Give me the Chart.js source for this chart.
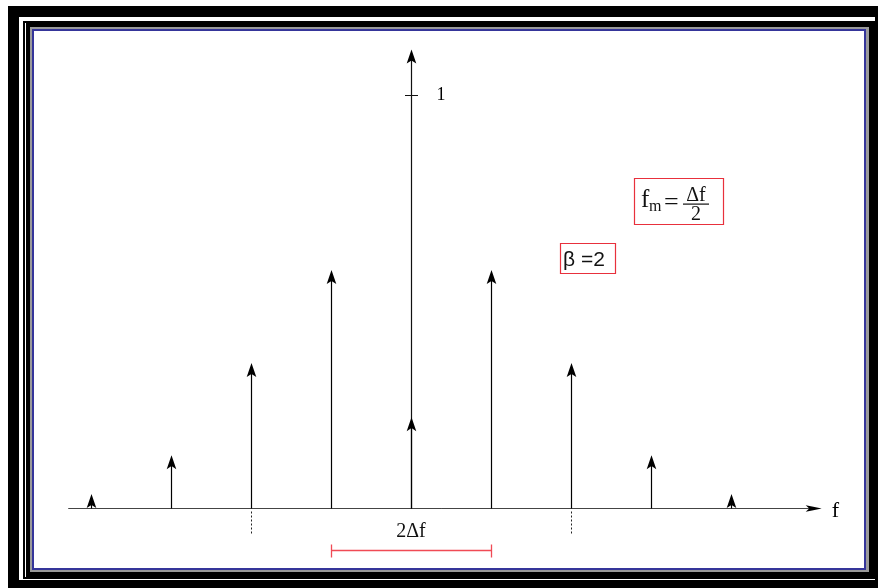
<!DOCTYPE html>
<html>
<head>
<meta charset="utf-8">
<script src="https://cdn.jsdelivr.net/npm/chart.js@4"></script>
<style>
  html, body { margin:0; padding:0; background:#fff; }
  #wrap { position:relative; width:878px; height:588px; overflow:hidden; background:#fff; }
  .fr { position:absolute; }
  canvas { position:absolute; left:0; top:0; }
</style>
</head>
<body>
<div id="wrap">
  <div class="fr" style="left:8px;top:6px;width:900px;height:600px;background:#000;"></div>
  <div class="fr" style="left:19px;top:17px;width:856px;height:563px;background:#fff;"></div>
  <div class="fr" style="left:23px;top:21px;width:852px;height:558px;background:#000;"></div>
  <div class="fr" style="left:25px;top:23px;width:1px;height:554px;background:#fff;"></div>
  <div class="fr" style="left:30px;top:27px;width:839px;height:545px;background:#9a9a9a;"></div>
  <div class="fr" style="left:32px;top:29px;width:834px;height:541px;background:#35359a;"></div>
  <div class="fr" style="left:34px;top:31px;width:830px;height:537px;background:#fff;"></div>
  <canvas id="c" width="878" height="588"></canvas>
</div>
<script>
// ---- data ----
const harmonics  = [-4, -3, -2, -1, 0, 1, 2, 3, 4];          // sideband index (multiples of f_m)
const amplitudes = [0.034, 0.128, 0.351, 0.576, 0.22, 0.576, 0.351, 0.128, 0.034];
const yTickValues = [1];
const yTickLabels = ['1'];
const xAxisLabel = 'f';
const spanLabel = '2\u0394f';
const betaLabel = '\u03B2 =2';

function arrowHead(ctx, x, y, dir, len, half) {
  // dir: 'up' or 'right'; tip at (x,y)
  ctx.save();
  ctx.translate(x, y);
  if (dir === 'right') ctx.rotate(Math.PI / 2);
  ctx.beginPath();
  ctx.moveTo(0, 0);
  ctx.quadraticCurveTo(half * 0.55, len * 0.55, half, len);
  ctx.lineTo(0, len * 0.78);
  ctx.lineTo(-half, len);
  ctx.quadraticCurveTo(-half * 0.55, len * 0.55, 0, 0);
  ctx.closePath();
  ctx.fillStyle = '#000';
  ctx.fill();
  ctx.restore();
}

const spectrumPlugin = {
  id: 'spectrum',
  afterDatasetsDraw(chart) {
    const ctx = chart.ctx;
    const xs = chart.scales.x, ys = chart.scales.y;
    const y0 = Math.round(ys.getPixelForValue(0)) + 0.5;
    ctx.save();

    // horizontal axis
    const xa0 = xs.getPixelForValue(-4.29), xa1 = xs.getPixelForValue(5.14);
    ctx.strokeStyle = '#444';
    ctx.lineWidth = 1;
    ctx.beginPath(); ctx.moveTo(xa0, y0); ctx.lineTo(xa1 - 6, y0); ctx.stroke();
    arrowHead(ctx, xa1, y0, 'right', 16, 3.2);
    ctx.fillStyle = '#000';
    ctx.font = '22px "Liberation Serif"';
    ctx.textBaseline = 'alphabetic';
    ctx.textAlign = 'left';
    ctx.fillText(xAxisLabel, xa1 + 10, y0 + 8);

    // vertical axis
    const xc = Math.round(xs.getPixelForValue(0)) + 0.5;
    const yTop = ys.getPixelForValue(1.11);
    ctx.strokeStyle = '#111';
    ctx.lineWidth = 1.2;
    ctx.beginPath(); ctx.moveTo(xc, y0); ctx.lineTo(xc, yTop + 8); ctx.stroke();
    arrowHead(ctx, xc, yTop, 'up', 14, 4.8);
    yTickValues.forEach((v, i) => {
      const yy = Math.round(ys.getPixelForValue(v)) + 0.5;
      ctx.lineWidth = 1;
      ctx.beginPath(); ctx.moveTo(xc - 6.5, yy); ctx.lineTo(xc + 6.5, yy); ctx.stroke();
      ctx.font = '18px "Liberation Serif"';
      ctx.textBaseline = 'middle';
      ctx.fillText(yTickLabels[i], xc + 25, yy);
    });

    // spectral lines
    const meta = chart.getDatasetMeta(0);
    meta.data.forEach((pt) => {
      const px = Math.round(pt.x) + 0.5;
      ctx.strokeStyle = '#000';
      ctx.lineWidth = 1.2;
      if (y0 - pt.y > 10) {
        ctx.beginPath(); ctx.moveTo(px, y0); ctx.lineTo(px, pt.y + 8); ctx.stroke();
      }
      arrowHead(ctx, px, pt.y, 'up', 14, 4.8);
    });

    // dotted markers at +-2
    ctx.strokeStyle = '#222';
    ctx.lineWidth = 1;
    ctx.setLineDash([2, 2]);
    [-2, 2].forEach(k => {
      const px = Math.round(xs.getPixelForValue(k)) + 0.5;
      ctx.beginPath(); ctx.moveTo(px, y0 + 3); ctx.lineTo(px, ys.getPixelForValue(-0.065)); ctx.stroke();
    });
    ctx.setLineDash([]);

    // 2Δf span
    ctx.fillStyle = '#111';
    ctx.font = '20px "Liberation Serif"';
    ctx.textAlign = 'center';
    ctx.textBaseline = 'alphabetic';
    ctx.fillText(spanLabel, xs.getPixelForValue(0), ys.getPixelForValue(-0.07));
    const xl = Math.round(xs.getPixelForValue(-1)) + 0.5, xr = Math.round(xs.getPixelForValue(1)) + 0.5;
    const yb = Math.round(ys.getPixelForValue(-0.102)) + 0.5;
    ctx.strokeStyle = '#f04a55';
    ctx.lineWidth = 1.3;
    ctx.beginPath();
    ctx.moveTo(xl, yb); ctx.lineTo(xr, yb);
    ctx.moveTo(xl, yb - 6); ctx.lineTo(xl, yb + 7);
    ctx.moveTo(xr, yb - 6); ctx.lineTo(xr, yb + 7);
    ctx.stroke();

    // fm box
    ctx.strokeStyle = '#e8303c';
    ctx.lineWidth = 1.2;
    ctx.beginPath(); ctx.rect(634.5, 178.5, 89, 46); ctx.stroke();
    ctx.fillStyle = '#111';
    ctx.textAlign = 'left';
    ctx.font = '25px "Liberation Serif"';
    ctx.fillText('f', 641, 207);
    ctx.font = '16px "Liberation Serif"';
    ctx.fillText('m', 649, 211);
    ctx.font = '26px "Liberation Serif"';
    ctx.fillText('=', 664, 210);
    ctx.font = '20px "Liberation Serif"';
    ctx.textAlign = 'center';
    ctx.fillText('\u0394f', 696, 201);
    ctx.fillText('2', 696, 220);
    ctx.fillRect(683, 203.5, 26, 1.2);

    // beta box
    ctx.strokeStyle = '#e8303c';
    ctx.lineWidth = 1.2;
    ctx.beginPath(); ctx.rect(560.5, 243.5, 55, 30); ctx.stroke();
    ctx.fillStyle = '#111';
    ctx.textAlign = 'left';
    ctx.font = '21px "Liberation Sans"';
    ctx.fillText(betaLabel, 563, 266);

    ctx.restore();
  }
};

new Chart(document.getElementById('c'), {
  type: 'scatter',
  data: {
    datasets: [{
      data: harmonics.map((h, i) => ({ x: h, y: amplitudes[i] })),
      pointRadius: 0,
      pointHoverRadius: 0,
      showLine: false
    }]
  },
  options: {
    responsive: false,
    devicePixelRatio: 1,
    animation: false,
    layout: { padding: { left: 11.5, right: 67.5, top: 53.7, bottom: 18.05 } },
    plugins: { legend: { display: false }, tooltip: { enabled: false } },
    scales: {
      x: { type: 'linear', min: -5, max: 5, display: false },
      y: { type: 'linear', min: -0.15, max: 1.1, display: false }
    }
  },
  plugins: [spectrumPlugin]
});
</script>
</body>
</html>
